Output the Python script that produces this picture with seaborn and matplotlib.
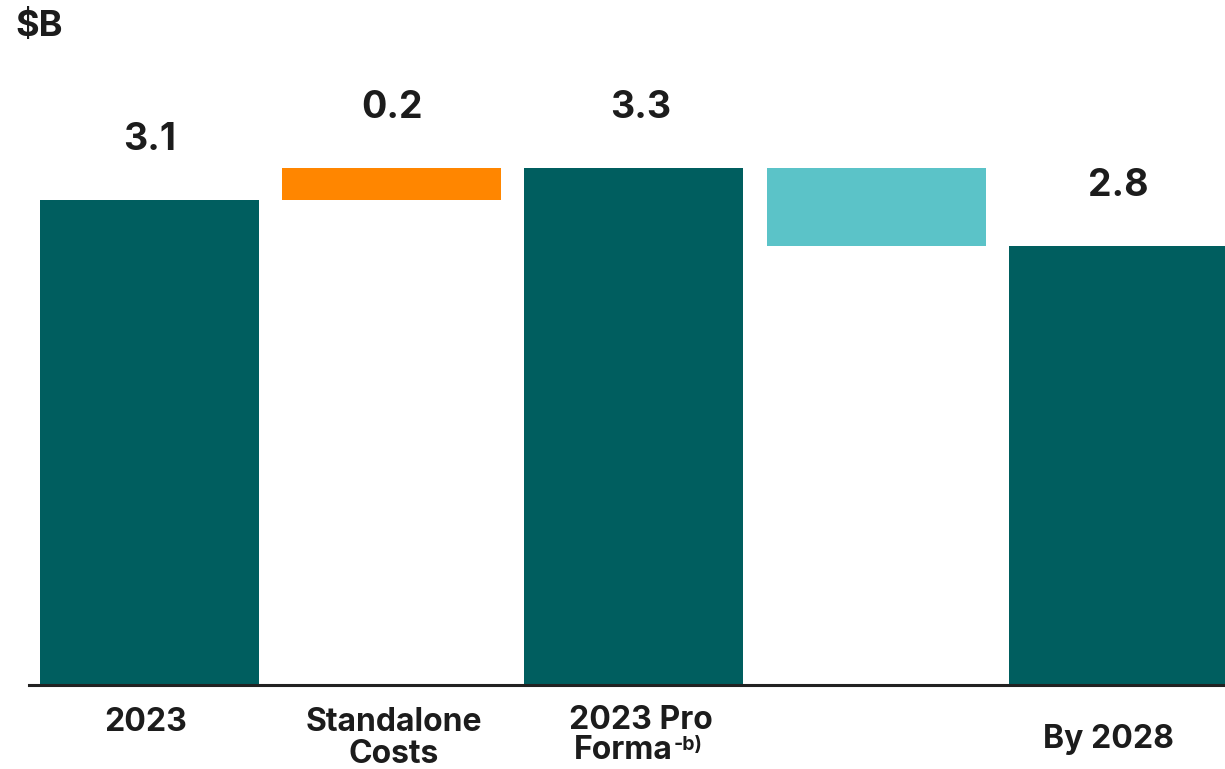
import matplotlib
matplotlib.use("Agg")
import matplotlib.pyplot as plt
import matplotlib.transforms as mtransforms
import numpy as np
import pandas as pd
import seaborn as sns

# Waterfall steps ($B)
categories = ["2023", "Standalone Costs", "2023 Pro Forma", "Savings", "By 2028"]
step_values = [3.1, 0.2, 3.3, -0.5, 2.8]
is_total = [True, False, True, False, True]
value_labels = ["3.1", "0.2", "3.3", "", "2.8"]
tick_lines = [["2023"], ["Standalone", "Costs"], ["2023 Pro", "Forma"], [], ["By 2028"]]

DARK_TEAL = "#005E5F"
ORANGE = "#FF8600"
LIGHT_TEAL = "#5BC3C8"
TEXT = "#1C1C1C"

# Bar extents: totals start at zero, steps float from the running level
bottoms, tops = [], []
level = 0.0
for v, tot in zip(step_values, is_total):
    if tot:
        bottoms.append(0.0)
        tops.append(v)
        level = v
    else:
        lo, hi = sorted([level, level + v])
        bottoms.append(lo)
        tops.append(hi)
        level = level + v
colors = [DARK_TEAL if t else (ORANGE if v > 0 else LIGHT_TEAL)
          for v, t in zip(step_values, is_total)]

df = pd.DataFrame({"category": categories,
                   "height": np.array(tops) - np.array(bottoms)})

sns.set_theme(style="white")
plt.rcParams["font.family"] = ["Inter", "DejaVu Sans"]

fig = plt.figure(figsize=(12.25, 7.69), dpi=100)
ax = fig.add_axes([29 / 1225, 84 / 769, 1 - 29 / 1225, 685 / 769])

sns.barplot(data=df, x="category", y="height", order=categories,
            width=0.904, color=DARK_TEAL, ax=ax, linewidth=0)

for patch, b, c in zip(ax.patches, bottoms, colors):
    patch.set_y(b)
    patch.set_facecolor(c)
    patch.set_edgecolor("none")

ax.set_xlim(-0.497, 4.44)
ax.set_ylim(0, 4.374)
ax.set_xlabel("")
ax.set_ylabel("")
ax.set_xticks([])
ax.set_yticks([])
for side in ["top", "right", "left"]:
    ax.spines[side].set_visible(False)
ax.spines["bottom"].set_color("#222222")
ax.spines["bottom"].set_linewidth(2.2)

# Value labels above each bar
label_shift = [0, 0, 0.03, 0, 0]
for i, (lab, top) in enumerate(zip(value_labels, tops)):
    if lab:
        ax.annotate(lab, xy=(i + label_shift[i], top), xytext=(0, 36),
                    textcoords="offset points", ha="center", va="baseline",
                    fontsize=27, fontweight="bold", color=TEXT)

# Category labels under the axis
trans = mtransforms.blended_transform_factory(ax.transData, fig.transFigure)
baselines = {0: [731], 1: [731, 763], 2: [729, 759], 4: [748]}
x_shift = {0: -0.017, 1: 0.008, 2: 0.03, 4: -0.04}
for i, lines in enumerate(tick_lines):
    for j, line in enumerate(lines):
        x = i + x_shift[i]
        y = 1 - baselines[i][j] / 769
        if line == "Forma":
            t = ax.text(x - 0.075, y, line, transform=trans, ha="center",
                        va="baseline", fontsize=23, fontweight="bold", color=TEXT)
            ax.annotate("-b)", xy=(1, 0.98), xycoords=t, xytext=(0.5, 0),
                        textcoords="offset points", ha="left", va="top",
                        fontsize=14, fontweight="bold", color=TEXT)
        else:
            ax.text(x, y, line, transform=trans, ha="center", va="baseline",
                    fontsize=23, fontweight="bold", color=TEXT)

fig.text(15 / 1225, 1 - 36 / 769, "$B", ha="left", va="baseline",
         fontsize=26, fontweight="bold", color=TEXT)

fig.savefig("out.png", dpi=100)
